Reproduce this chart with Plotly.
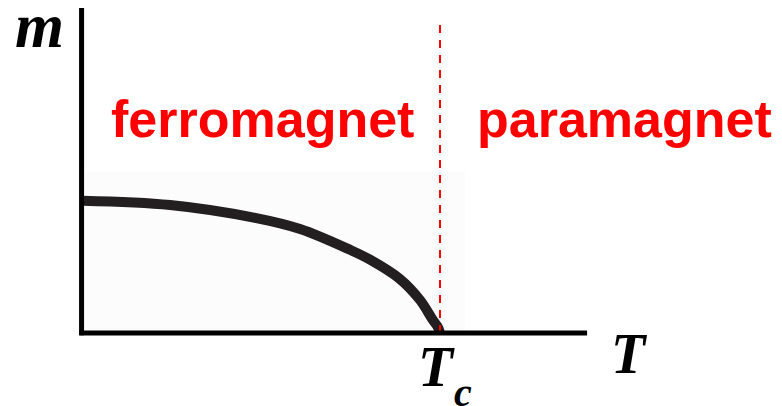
import plotly.graph_objects as go

# Data (T in units of Tc, m in units of m(0))
T_vals = [0.0, 0.244, 0.482, 0.608, 0.748, 0.804, 0.888, 0.944, 0.980, 0.994, 1.0]
m_vals = [1.01, 0.977, 0.879, 0.794, 0.635, 0.56, 0.412, 0.252, 0.099, 0.045, 0.0]
Tc = 1.0
T_axis_max = 1.412
m_axis_max = 2.48
m_dash_top = 2.38
region_labels = ["ferromagnet", "paramagnet"]

W, H = 782, 406
# pixel mapping: px = 83 + 357*T ; py = 333 - 131*m
x_range = [-83 / 357, (W - 83) / 357]
y_range = [-(H - 333) / 131, 333 / 131]

fig = go.Figure()

# faint background panel
fig.add_shape(type="rect", xref="paper", yref="paper",
              x0=85 / W, x1=465 / W, y0=1 - 333 / H, y1=1 - 172 / H,
              fillcolor="#fcfcfc", line=dict(width=0), layer="below")

# curve
fig.add_trace(go.Scatter(x=T_vals, y=m_vals, mode="lines",
                         line=dict(color="#231f20", width=10, shape="spline", smoothing=1.0),
                         hoverinfo="skip"))
# dashed Tc line
fig.add_trace(go.Scatter(x=[Tc, Tc], y=[0, m_dash_top], mode="lines",
                         line=dict(color="#ff0000", width=2, dash="8px,7px"),
                         hoverinfo="skip"))
# axes
fig.add_trace(go.Scatter(x=[-0.004, -0.004], y=[-0.018, m_axis_max], mode="lines",
                         line=dict(color="black", width=5), hoverinfo="skip"))
fig.add_trace(go.Scatter(x=[-0.01, T_axis_max], y=[0, 0], mode="lines",
                         line=dict(color="black", width=5), hoverinfo="skip"))

serif = dict(family="Liberation Serif", color="black", weight="bold", style="italic")

def ann(text, px, py, size, font):
    f = dict(font)
    f["size"] = size
    fig.add_annotation(text=text, xref="paper", yref="paper",
                       x=px / W, y=1 - py / H, xanchor="center", yanchor="middle",
                       showarrow=False, font=f)

ann("m", 39, 26, 63, serif)
ann("T", 629, 354, 56, serif)
ann("T", 436, 366, 57, serif)
ann("c", 463, 392, 40, serif)

sans = dict(family="Liberation Sans", color="#ff0000", weight="bold")
ann(region_labels[0], 262, 119, 52, sans)
ann(region_labels[1], 624, 119, 52, sans)

fig.update_layout(width=W, height=H, margin=dict(l=0, r=0, t=0, b=0),
                  paper_bgcolor="white", plot_bgcolor="white", showlegend=False,
                  xaxis=dict(range=x_range, visible=False, fixedrange=True),
                  yaxis=dict(range=y_range, visible=False, fixedrange=True))

fig.write_html("out.html", config={"displayModeBar": False},
               post_script="document.body.style.margin='0';document.body.style.overflow='hidden';")
